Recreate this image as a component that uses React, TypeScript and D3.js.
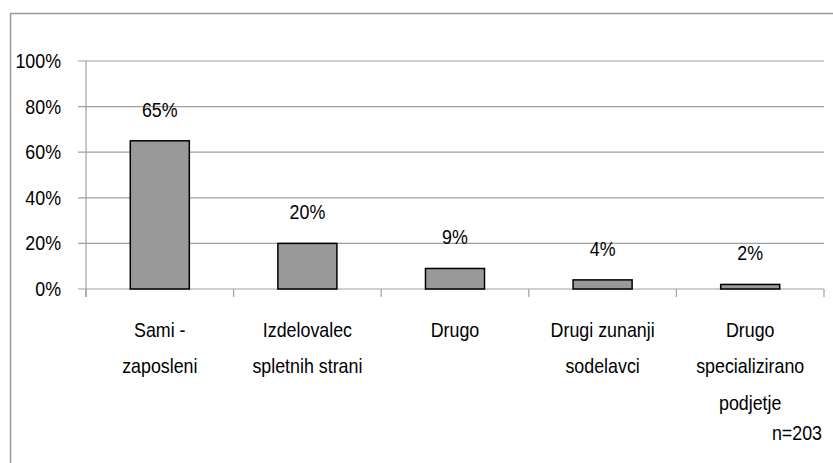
import React from "react";
import * as d3 from "d3";

const categories: string[][] = [
  ["Sami -", "zaposleni"],
  ["Izdelovalec", "spletnih strani"],
  ["Drugo"],
  ["Drugi zunanji", "sodelavci"],
  ["Drugo", "specializirano", "podjetje"],
];
const values: number[] = [65, 20, 9, 4, 2];
const yTicks: number[] = [0, 20, 40, 60, 80, 100];
const note = "n=203";

const W = 833;
const H = 463;
const FONT = "'Liberation Sans', Arial, sans-serif";
const FS = 21;
const SX = 0.85;

function NText({
  x,
  y,
  anchor,
  lines,
  lh = 36.5,
}: {
  x: number;
  y: number;
  anchor: "start" | "middle" | "end";
  lines: string[];
  lh?: number;
}) {
  return (
    <text
      transform={`translate(${x},${y}) scale(${SX},1)`}
      textAnchor={anchor}
      fontSize={FS}
      fill="#000"
    >
      {lines.map((l, j) => (
        <tspan key={j} x={0} dy={j === 0 ? 0 : lh}>
          {l}
        </tspan>
      ))}
    </text>
  );
}

export default function App() {
  const left = 86;
  const right = 824;
  const top = 61;
  const bottom = 289;

  const x = d3
    .scaleBand<number>()
    .domain(values.map((_, i) => i))
    .range([left, right])
    .paddingInner(0.6)
    .paddingOuter(0.3);
  const y = d3.scaleLinear().domain([0, 100]).range([bottom, top]);
  const step = x.step();
  const boundaries = d3.range(values.length + 1).map((i) => left + i * step);

  return (
    <svg
      width={W}
      height={H}
      style={{ position: "absolute", left: 0, top: 0, background: "#fff" }}
      fontFamily={FONT}
    >
      <rect x={10.5} y={13.5} width={840} height={470} fill="none" stroke="#999" strokeWidth={1.5} />
      {yTicks.map((t) => (
        <g key={t}>
          <line x1={78} x2={right} y1={y(t)} y2={y(t)} stroke="#a0a0a0" strokeWidth={1.2} />
          <NText x={61} y={y(t) + 7} anchor="end" lines={[`${t}%`]} />
        </g>
      ))}
      <line x1={left} x2={left} y1={top} y2={bottom + 8} stroke="#a0a0a0" strokeWidth={1.2} />
      {boundaries.map((bx, i) => (
        <line key={i} x1={bx} x2={bx} y1={bottom} y2={bottom + 8} stroke="#a0a0a0" strokeWidth={1.2} />
      ))}
      {values.map((v, i) => {
        const cx = x(i)! + x.bandwidth() / 2;
        return (
          <g key={i}>
            <rect
              x={x(i)!}
              y={y(v)}
              width={x.bandwidth()}
              height={bottom - y(v)}
              fill="#999999"
              stroke="#000"
              strokeWidth={1.5}
            />
            <NText x={cx} y={y(v) - 24} anchor="middle" lines={[`${v}%`]} />
            <NText x={cx} y={337} anchor="middle" lines={categories[i]} />
          </g>
        );
      })}
      <NText x={822} y={440} anchor="end" lines={[note]} />
    </svg>
  );
}
